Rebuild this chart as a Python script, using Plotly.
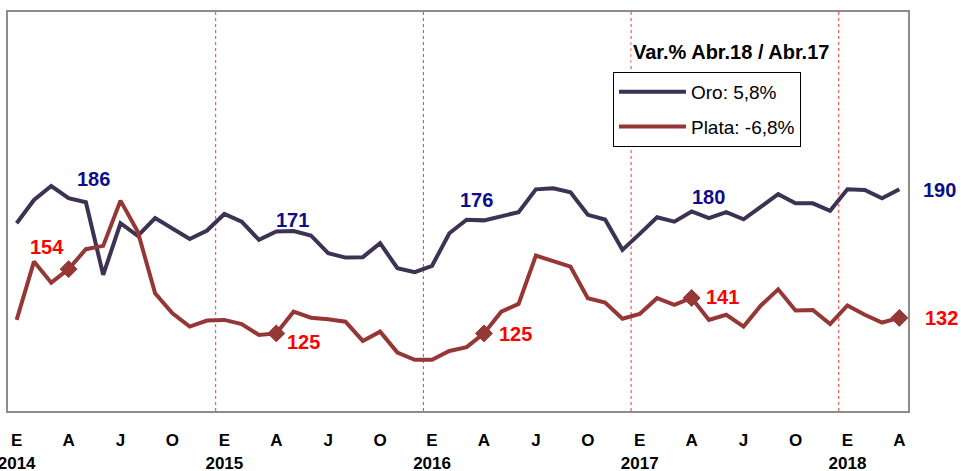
import plotly.graph_objects as go

# ---- data (monthly index, Jan 2014 - Apr 2018) ----
years = [2014, 2015, 2016, 2017, 2018]
month_letters = ["E", "F", "M", "A", "M", "J", "J", "A", "S", "O", "N", "D"]

oro = [174.7, 185.2, 191.5, 186.0, 184.2, 151.4, 174.7, 169.0, 177.0, 172.5, 167.6, 171.4,
       178.9, 175.4, 167.2, 171.0, 171.2, 169.2, 161.2, 159.2, 159.4, 165.7, 154.4, 152.6,
       155.5, 170.2, 176.3, 176.0, 178.0, 179.7, 190.0, 190.5, 188.7, 178.5, 176.4, 162.7,
       169.9, 177.4, 175.4, 180.0, 177.0, 179.7, 176.5, 182.2, 187.8, 183.7, 183.7, 180.3,
       190.0, 189.7, 186.0, 190.0]

plata = [131.1, 157.4, 147.9, 154.0, 163.0, 164.5, 184.9, 170.8, 143.1, 134.1, 128.1, 130.8,
         131.1, 129.2, 124.3, 125.0, 134.8, 132.1, 131.4, 130.3, 121.6, 125.8, 116.4, 113.1,
         113.1, 117.1, 118.8, 125.0, 134.8, 138.3, 160.1, 157.8, 155.1, 140.9, 138.9, 131.6,
         133.8, 140.9, 137.9, 141.0, 131.1, 133.4, 128.1, 137.6, 144.9, 135.3, 135.6, 129.2,
         137.6, 133.4, 129.9, 132.0]

legend_oro = "Oro: 5,8%"
legend_plata = "Plata: -6,8%"
legend_title = "Var.% Abr.18 / Abr.17"

n = len(oro)
month_num = [i % 12 + 1 for i in range(n)]
year_of = [years[0] + i // 12 for i in range(n)]
x = list(range(n))

# tick labels every quarter
tick_idx = [i for i in x if month_num[i] in (1, 4, 7, 10)]
tick_txt = [month_letters[month_num[i] - 1] + (f"<br>{year_of[i]}" if month_num[i] == 1 else "")
            for i in tick_idx]

# April points get markers and labels
april_idx = [i for i in x if month_num[i] == 4]

ORO_C = "#3D3254"
PLATA_C = "#953735"
FONT = "Arial, Liberation Sans, sans-serif"

fig = go.Figure()
fig.add_trace(go.Scatter(
    x=x, y=oro, mode="lines", name=legend_oro, legendgroup="o",
    line=dict(color=ORO_C, width=4), hoverinfo="skip"))
fig.add_trace(go.Scatter(
    x=x, y=plata, mode="lines+markers", name=legend_plata, legendgroup="p",
    line=dict(color=PLATA_C, width=4),
    marker=dict(symbol="diamond", color=PLATA_C, opacity=1,
                line=dict(color=PLATA_C, width=1),
                size=[13 if i in april_idx else 0 for i in x]),
    hoverinfo="skip"))

# vertical dotted separators at each year boundary
for i in x:
    if month_num[i] == 1 and i > 0:
        fig.add_shape(type="line", xref="x", yref="paper", x0=i - 0.5, x1=i - 0.5,
                      y0=0, y1=1, line=dict(color="#FF3030", width=1, dash="dot"),
                      layer="below")

# data labels
oro_off = [(25, 19), (16, 11), (-7, 20), (17, 15), (40, -1)]
plata_off = [(-22, 22), (27, -9), (32, -1), (31, 1), (42, 0)]
for k, i in enumerate(april_idx):
    fig.add_annotation(x=i, y=oro[i], xref="x", yref="y", text=f"{oro[i]:.0f}",
                       showarrow=False, xshift=oro_off[k][0], yshift=oro_off[k][1],
                       font=dict(family=FONT, size=20, color="#0D0D8C", weight="bold"))
    fig.add_annotation(x=i, y=plata[i], xref="x", yref="y", text=f"{plata[i]:.0f}",
                       showarrow=False, xshift=plata_off[k][0], yshift=plata_off[k][1],
                       font=dict(family=FONT, size=20, color="#FF0000", weight="bold"))

# legend title above the box
fig.add_annotation(x=0.8028, y=0.8997, xref="paper", yref="paper", text=legend_title,
                   showarrow=False, bgcolor="white", xanchor="center", yanchor="middle",
                   font=dict(family=FONT, size=20, color="black", weight="bold"))

fig.update_layout(
    width=961, height=471,
    margin=dict(l=8, r=53, t=12, b=60, autoexpand=False),
    paper_bgcolor="white", plot_bgcolor="white",
    showlegend=True,
    legend=dict(x=0.6722, y=0.8496, xanchor="left", yanchor="top",
                bgcolor="white", bordercolor="black", borderwidth=1,
                font=dict(family=FONT, size=19, color="black"),
                tracegroupgap=7, itemwidth=67,
                entrywidth=200, entrywidthmode="pixels"),
    font=dict(family=FONT),
)
fig.update_xaxes(range=[-0.5, n - 0.5], tickmode="array", tickvals=tick_idx, ticktext=tick_txt,
                 showgrid=False, zeroline=False, showline=True, mirror=True,
                 linecolor="#8C8C8C", linewidth=2, ticks="", automargin=False,
                 ticklabeloverflow="allow", ticklabelstandoff=13,
                 tickfont=dict(family=FONT, size=17, color="black", weight="bold"))
fig.update_yaxes(range=[90, 270], showgrid=False, zeroline=False, showticklabels=False,
                 automargin=False,
                 showline=True, mirror=True, linecolor="#8C8C8C", linewidth=2, ticks="")

fig.write_html("out.html", config={"displayModeBar": False},
               post_script="document.body.style.margin='0';")
